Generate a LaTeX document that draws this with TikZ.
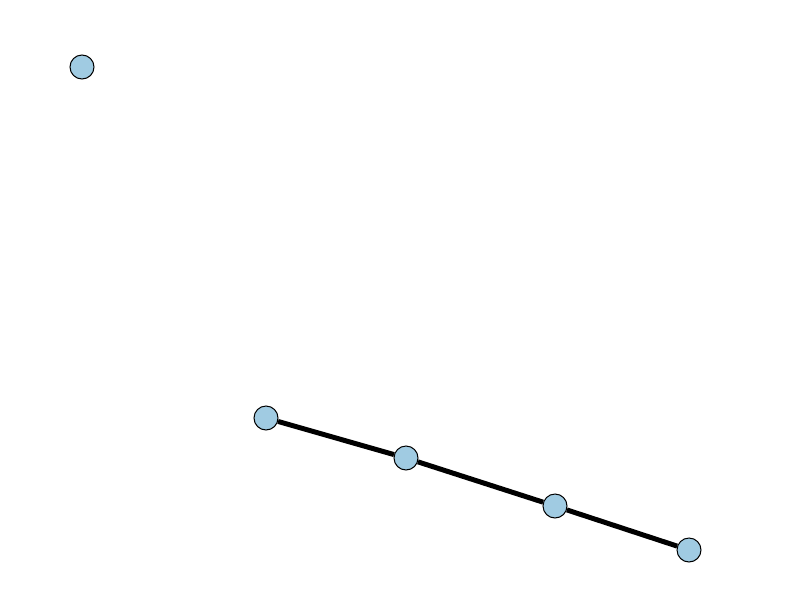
\documentclass[tikz,border=0pt]{standalone}
\definecolor{nodeblue}{HTML}{A0CBE2}
\tikzset{vtx/.style={circle,draw=black,fill=nodeblue,line width=1pt,minimum size=24pt,inner sep=0pt},
edge/.style={line width=5pt,black}}
\begin{document}
\begin{tikzpicture}[x=1pt,y=-1pt]
\useasboundingbox (0,0) rectangle (800,600);
\node[vtx] (a) at (82,67) {};
\node[vtx] (b) at (266,418) {};
\node[vtx] (c) at (406,458) {};
\node[vtx] (d) at (555,506) {};
\node[vtx] (e) at (689,550) {};
\draw[edge] (b) -- (c);
\draw[edge] (c) -- (d);
\draw[edge] (d) -- (e);
\end{tikzpicture}
\end{document}
